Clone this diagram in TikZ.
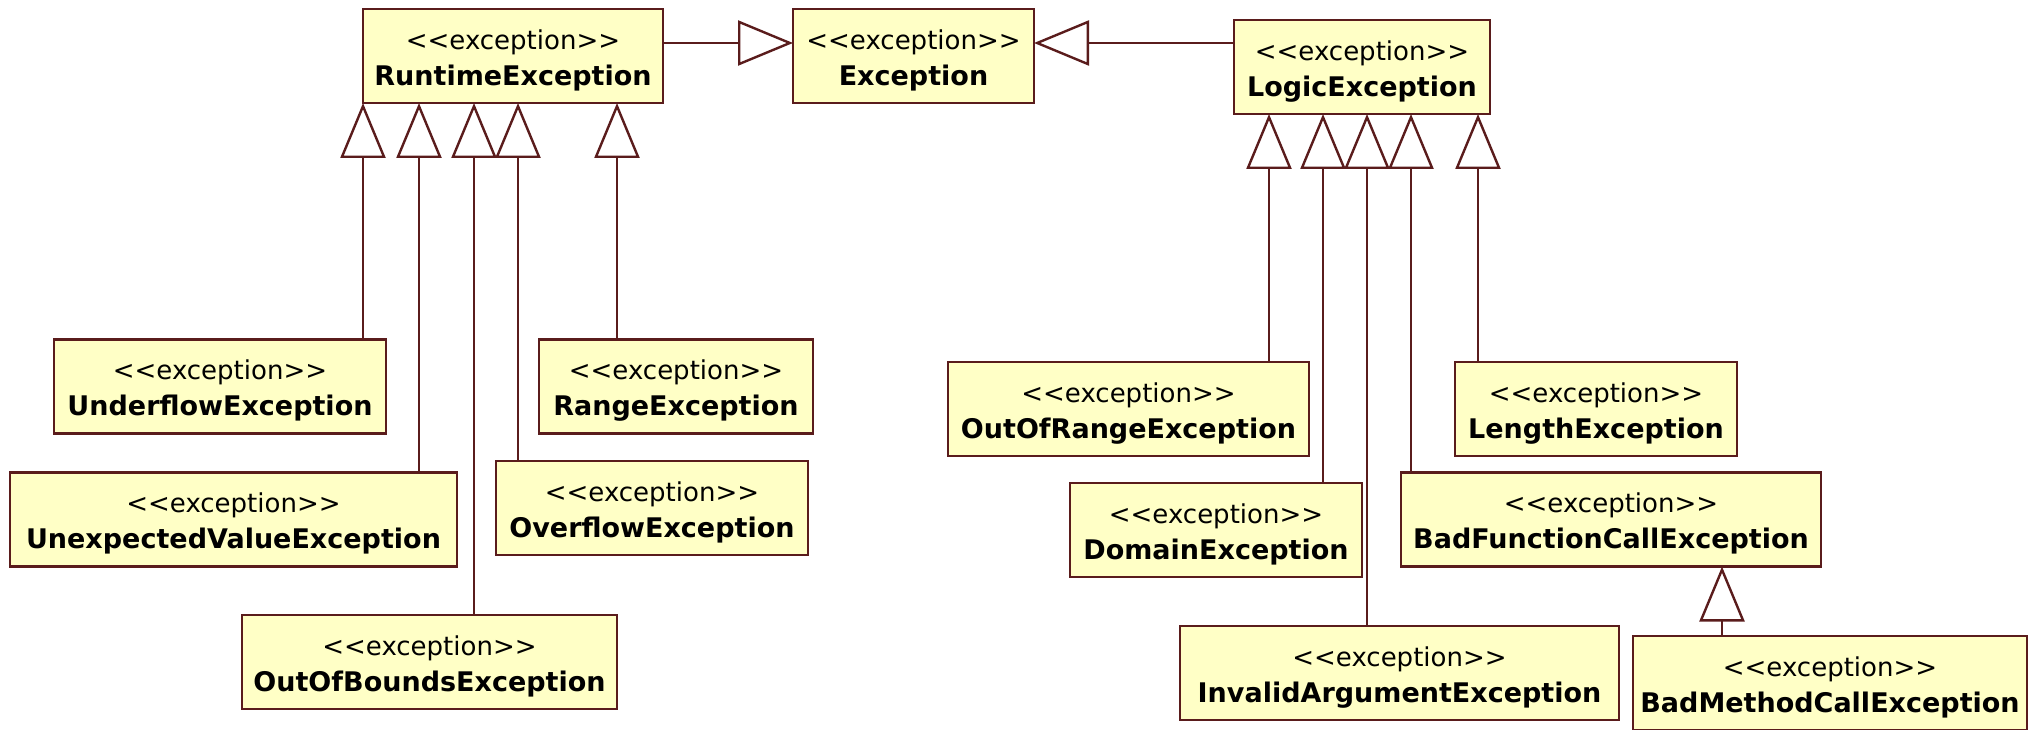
\documentclass[tikz,border=0pt]{standalone}
\usepackage{fontspec}
\newfontfamily\umlfont{DejaVu Sans}
\usetikzlibrary{arrows.meta}
\definecolor{umlfill}{RGB}{255,255,198}
\definecolor{umlline}{RGB}{90,28,28}
\newcommand{\exname}[1]{\rule{0pt}{28pt}{\fontsize{26}{36}\selectfont <<exception>>}\\{\bfseries #1}}

\begin{document}
\begin{tikzpicture}[x=1pt,y=-1pt,
    exbox/.style={draw=umlline,fill=umlfill,line width=2.4pt,align=center,
      minimum height=94pt,inner xsep=2pt,outer sep=0pt,
      font=\umlfont\fontsize{27}{36}\selectfont},
    isa/.style={draw=umlline,line width=2.4pt,
      -{Triangle[open,length=55pt,width=45pt]}}]
  \useasboundingbox (0,0) rectangle (2032,730);

  % top row
  \node[exbox,minimum width=300pt](rtex) at (513,56){\exname{RuntimeException}};
  \node[exbox,minimum width=241pt](exc) at (913.5,56){\exname{Exception}};
  \node[exbox,minimum width=256pt](lgex) at (1362,67){\exname{LogicException}};

  % runtime side
  \node[exbox,minimum width=332pt](uflow) at (220,386.5){\exname{UnderflowException}};
  \node[exbox,minimum width=274pt](range) at (676,386.5){\exname{RangeException}};
  \node[exbox,minimum width=447pt](unexp) at (233.5,519.5){\exname{UnexpectedValueException}};
  \node[exbox,minimum width=312pt](oflow) at (652,508){\exname{OverflowException}};
  \node[exbox,minimum width=375pt](oob) at (429.5,662){\exname{OutOfBoundsException}};

  % logic side
  \node[exbox,minimum width=361pt](oor) at (1128.5,409){\exname{OutOfRangeException}};
  \node[exbox,minimum width=282pt](length) at (1596,409){\exname{LengthException}};
  \node[exbox,minimum width=292pt](domain) at (1216,530){\exname{DomainException}};
  \node[exbox,minimum width=420pt](badfn) at (1611,519.5){\exname{BadFunctionCallException}};
  \node[exbox,minimum width=439pt](invarg) at (1399.5,673){\exname{InvalidArgumentException}};
  \node[exbox,minimum width=394pt](badmeth) at (1830,683){\exname{BadMethodCallException}};

  \coordinate (hl) at (0,43);
  \draw[isa] (rtex.east |- hl) -- (exc.west |- hl);
  \draw[isa] (lgex.west |- hl) -- (exc.east |- hl);

  \coordinate (r1) at (363,0);
  \coordinate (r2) at (419,0);
  \coordinate (r3) at (474,0);
  \coordinate (r4) at (518,0);
  \coordinate (r5) at (617,0);
  \draw[isa] (uflow.north -| r1) -- (rtex.south -| r1);
  \draw[isa] (unexp.north -| r2) -- (rtex.south -| r2);
  \draw[isa] (oob.north -| r3) -- (rtex.south -| r3);
  \draw[isa] (oflow.north -| r4) -- (rtex.south -| r4);
  \draw[isa] (range.north -| r5) -- (rtex.south -| r5);

  \coordinate (l1) at (1269,0);
  \coordinate (l2) at (1323,0);
  \coordinate (l3) at (1367,0);
  \coordinate (l4) at (1411,0);
  \coordinate (l5) at (1478,0);
  \draw[isa] (oor.north -| l1) -- (lgex.south -| l1);
  \draw[isa] (domain.north -| l2) -- (lgex.south -| l2);
  \draw[isa] (invarg.north -| l3) -- (lgex.south -| l3);
  \draw[isa] (badfn.north -| l4) -- (lgex.south -| l4);
  \draw[isa] (length.north -| l5) -- (lgex.south -| l5);

  \coordinate (b1) at (1722,0);
  \draw[isa] (badmeth.north -| b1) -- (badfn.south -| b1);
\end{tikzpicture}
\end{document}
